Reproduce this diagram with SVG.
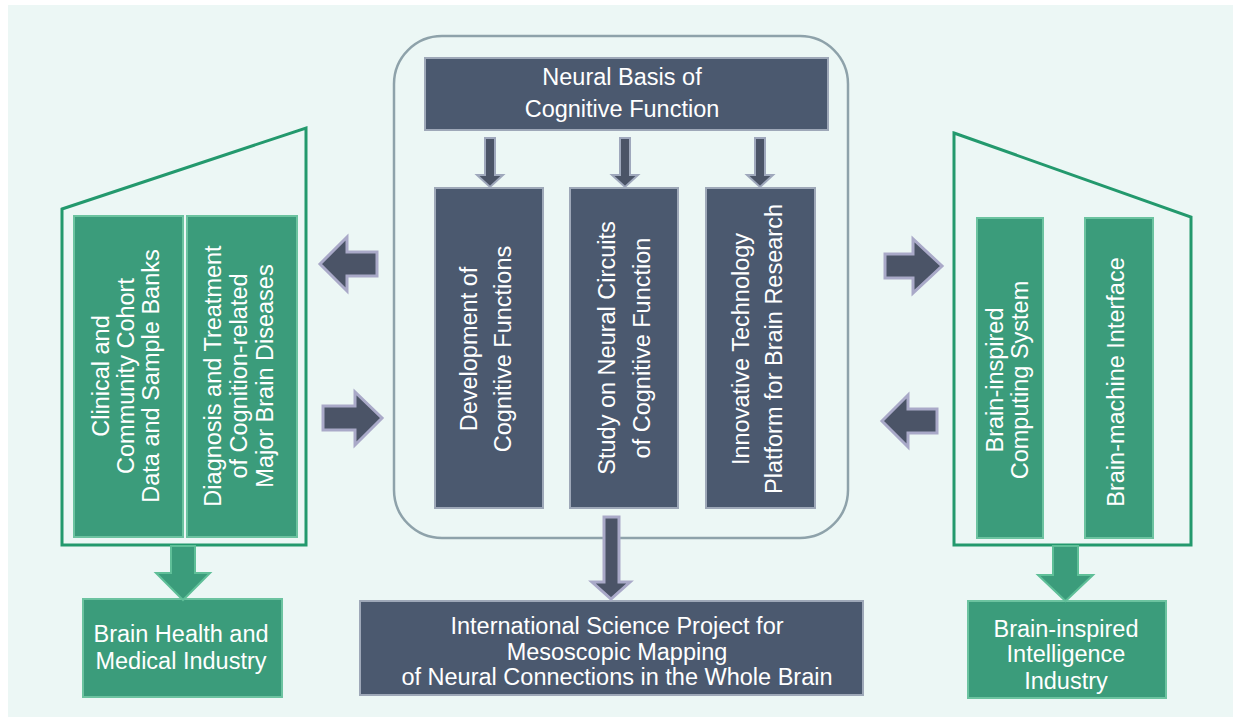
<svg xmlns="http://www.w3.org/2000/svg" width="1239" height="723" viewBox="0 0 1239 723">
<defs>
<style>
text{font-family:"Liberation Sans",Arial,sans-serif;font-size:23.5px;fill:#ffffff;text-anchor:middle}
.panel{fill:none;stroke:#23996d;stroke-width:3}
.gbox{fill:#3b9c7b;stroke:#6cc3a0;stroke-width:2}
.dbox{fill:#4b596f;stroke:#9ea8b8;stroke-width:2}
.darr{fill:#4b5467;stroke:#a9a9c8;stroke-width:3;stroke-linejoin:miter}
.sarr{fill:#4b5467;stroke:#9fa8bc;stroke-width:2}
.garr{fill:#3b9c7b;stroke:#5fbf98;stroke-width:2}
</style>
</defs>
<rect x="0" y="0" width="1239" height="723" fill="#ffffff"/>
<rect x="8" y="5" width="1225" height="712" fill="#ecf7f5"/>

<g id="left-panel">
<polygon class="panel" points="62,209 306,128 306,545 62,545"/>
</g>
<g id="clinical-cohort">
<rect class="gbox" x="74" y="216" width="109" height="321"/>
<text transform="translate(0,376) rotate(-90)"><tspan x="0" y="109">Clinical and</tspan><tspan x="0" y="134">Community Cohort</tspan><tspan x="0" y="159">Data and Sample Banks</tspan></text>
</g>
<g id="diagnosis-treatment">
<rect class="gbox" x="187" y="216" width="110" height="321"/>
<text transform="translate(0,376) rotate(-90)"><tspan x="0" y="221">Diagnosis and Treatment</tspan><tspan x="0" y="247">of Cognition-related</tspan><tspan x="0" y="273">Major Brain Diseases</tspan></text>
</g>

<g id="right-panel">
<polygon class="panel" points="954,133 1191,217 1191,545 954,545"/>
</g>
<g id="brain-inspired-computing">
<rect class="gbox" x="977" y="218" width="66" height="320"/>
<text transform="translate(0,380) rotate(-90)"><tspan x="0" y="1003">Brain-inspired</tspan><tspan x="0" y="1028">Computing System</tspan></text>
</g>
<g id="brain-machine-interface">
<rect class="gbox" x="1085" y="218" width="68" height="320"/>
<text transform="translate(0,382) rotate(-90)"><tspan x="0" y="1124">Brain-machine Interface</tspan></text>
</g>

<g id="center-frame">
<rect x="394" y="36" width="454" height="502" rx="48" ry="48" fill="none" stroke="#8ea2aa" stroke-width="2.5"/>
</g>
<g id="neural-basis">
<rect class="dbox" x="425" y="58" width="403" height="72"/>
<text><tspan x="622" y="84.5">Neural Basis of</tspan><tspan x="622" y="116.5">Cognitive Function</tspan></text>
</g>
<g id="development">
<rect class="dbox" x="435" y="188" width="108" height="320"/>
<text transform="translate(0,349) rotate(-90)"><tspan x="0" y="476.5">Development of</tspan><tspan x="0" y="511">Cognitive Functions</tspan></text>
</g>
<g id="neural-circuits">
<rect class="dbox" x="570" y="188" width="108" height="320"/>
<text transform="translate(0,348) rotate(-90)"><tspan x="0" y="614.5">Study on Neural Circuits</tspan><tspan x="0" y="649.5">of Cognitive Function</tspan></text>
</g>
<g id="innovative-technology">
<rect class="dbox" x="706" y="188" width="109" height="320"/>
<text transform="translate(0,349) rotate(-90)"><tspan x="0" y="748.5">Innovative Technology</tspan><tspan x="0" y="782">Platform for Brain Research</tspan></text>
</g>

<g id="international-project">
<rect class="dbox" x="360" y="601" width="503" height="94"/>
<text><tspan x="617" y="634">International Science Project for</tspan><tspan x="617" y="660">Mesoscopic Mapping</tspan><tspan x="617" y="685">of Neural Connections in the Whole Brain</tspan></text>
</g>
<g id="brain-health-industry">
<rect class="gbox" x="83" y="599" width="199" height="98"/>
<text><tspan x="181" y="641.5">Brain Health and</tspan><tspan x="181" y="668.5">Medical Industry</tspan></text>
</g>
<g id="brain-inspired-industry">
<rect class="gbox" x="968" y="601" width="198" height="97"/>
<text><tspan x="1066" y="636.5">Brain-inspired</tspan><tspan x="1066" y="661.5">Intelligence</tspan><tspan x="1066" y="688.5">Industry</tspan></text>
</g>

<g id="connectors">
<path class="sarr" d="M485,138 h10 v37 h8 l-13,12 l-13,-12 h8 z"/>
<path class="sarr" d="M620,138 h10 v37 h8 l-13,12 l-13,-12 h8 z"/>
<path class="sarr" d="M755,138 h10 v37 h8 l-13,12 l-13,-12 h8 z"/>
<path class="darr" d="M604,517 h15 v65 h11 l-19,17 l-19,-17 h12 z"/>
<path class="darr" d="M320,264 L347,237 L347,252 L377,252 L377,276 L347,276 L347,291 Z"/>
<path class="darr" d="M323,406 L355,406 L355,392 L382,418 L355,445 L355,430 L323,430 Z"/>
<path class="darr" d="M885,254 L913,254 L913,239 L942,266 L913,293 L913,278 L885,278 Z"/>
<path class="darr" d="M882,421 L908,395 L908,409 L937,409 L937,433 L908,433 L908,447 Z"/>
<path class="garr" d="M171,546 h24 v27 h15 l-27,27 l-27,-27 h15 z"/>
<path class="garr" d="M1053,546 h25 v29 h15 l-27.5,26 l-27.5,-26 h15 z"/>
</g>
</svg>
